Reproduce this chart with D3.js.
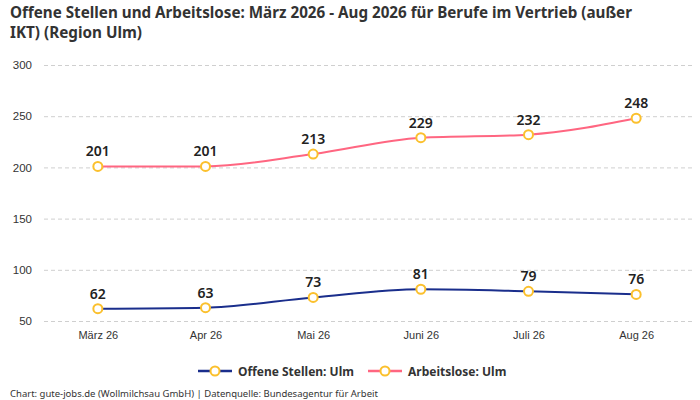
<!DOCTYPE html>
<html lang="de">
<head>
<meta charset="UTF-8">
<title>Offene Stellen und Arbeitslose</title>
<script src="https://d3js.org/d3.v7.min.js"></script>
<style>
    body { margin: 0; background: #fff; font-family: "Noto Sans", Roboto, sans-serif; }
    svg { display: block; }
    .grid line { stroke: #cfcfcf; stroke-dasharray: 4 3; }
    .axis text { font-size: 11px; fill: #333; }
    .val { font-size: 14px; font-weight: 600; fill: #222; text-anchor: middle; }
    .title { font-size: 16px; font-weight: bold; fill: #333; }
</style>
</head>
<body>
<svg id="chart" width="700" height="400"></svg>
<script>
    // Monate und Werte
    const months = ["März 26", "Apr 26", "Mai 26", "Juni 26", "Juli 26", "Aug 26"];
    const offeneStellen = [62, 63, 73, 81, 79, 76];
    const arbeitslose = [201, 201, 213, 229, 232, 248];
    const yTicks = [50, 100, 150, 200, 250, 300];

    const seriesNames = ["Offene Stellen: Ulm", "Arbeitslose: Ulm"];
    const seriesColors = ["#1a2e8c", "#ff6681"];
    const markerColor = "#fbc02d";

    const svg = d3.select("#chart");
    const margin = { left: 44, right: 10, top: 65, bottom: 79 };
    const width = 700, height = 400;

    const x = d3.scalePoint()
        .domain(months)
        .range([margin.left, width - margin.right])
        .padding(0.5);

    const y = d3.scaleLinear()
        .domain([50, 300])
        .range([height - margin.bottom, margin.top]);

    // Titel (zwei Zeilen)
    svg.append("text").attr("class", "title")
        .attr("x", 10).attr("y", 18)
        .attr("textLength", 622).attr("lengthAdjust", "spacingAndGlyphs")
        .text("Offene Stellen und Arbeitslose: März 2026 - Aug 2026 für Berufe im Vertrieb (außer");
    svg.append("text").attr("class", "title")
        .attr("x", 10).attr("y", 38)
        .attr("textLength", 132).attr("lengthAdjust", "spacingAndGlyphs")
        .text("IKT) (Region Ulm)");

    // Gitterlinien
    svg.append("g")
        .attr("class", "grid")
        .attr("transform", `translate(${margin.left},0)`)
        .call(d3.axisLeft(y).tickValues(yTicks).tickSize(-(width - margin.left - 5)).tickFormat(""))
        .call(g => g.select(".domain").remove());

    // Y-Achse
    svg.append("g")
        .attr("class", "axis")
        .attr("transform", `translate(32,0)`)
        .call(d3.axisLeft(y).tickValues(yTicks).tickSize(0).tickPadding(0))
        .call(g => g.select(".domain").remove())
        .selectAll("text").style("font-size", "11.5px");

    // X-Achse
    svg.append("g")
        .attr("class", "axis")
        .attr("transform", `translate(0,${height - margin.bottom})`)
        .call(d3.axisBottom(x).tickSize(0).tickPadding(10))
        .call(g => g.select(".domain").remove());

    const line = d3.line()
        .x((d, i) => x(months[i]))
        .y(d => y(d))
        .curve(d3.curveMonotoneX);

    [offeneStellen, arbeitslose].forEach((vals, s) => {
        svg.append("path")
            .datum(vals)
            .attr("fill", "none")
            .attr("stroke", seriesColors[s])
            .attr("stroke-width", 2)
            .attr("d", line);

        svg.append("g").selectAll("circle")
            .data(vals)
            .join("circle")
            .attr("cx", (d, i) => x(months[i]))
            .attr("cy", d => y(d))
            .attr("r", 4.5)
            .attr("fill", "#fff")
            .attr("stroke", markerColor)
            .attr("stroke-width", 2);

        svg.append("g").selectAll("text")
            .data(vals)
            .join("text")
            .attr("class", "val")
            .attr("x", (d, i) => x(months[i]))
            .attr("y", d => y(d) - 10)
            .text(d => d);
    });

    // Legende
    const legendX = [198, 368];
    seriesNames.forEach((name, s) => {
        const g = svg.append("g").attr("transform", `translate(${legendX[s]},371)`);
        g.append("line").attr("x1", 0).attr("x2", 34)
            .attr("stroke", seriesColors[s]).attr("stroke-width", 2.5);
        g.append("circle").attr("cx", 17).attr("r", 4.5)
            .attr("fill", "#fff").attr("stroke", markerColor).attr("stroke-width", 2);
        g.append("text").attr("x", 40).attr("y", 4.5)
            .style("font-size", "12px").style("font-weight", "bold").style("fill", "#333")
            .text(name);
    });

    // Quelle
    svg.append("text")
        .attr("x", 10).attr("y", 397)
        .style("font-size", "9.5px").style("fill", "#333")
        .text("Chart: gute-jobs.de (Wollmilchsau GmbH) | Datenquelle: Bundesagentur für Arbeit");
</script>
</body>
</html>
